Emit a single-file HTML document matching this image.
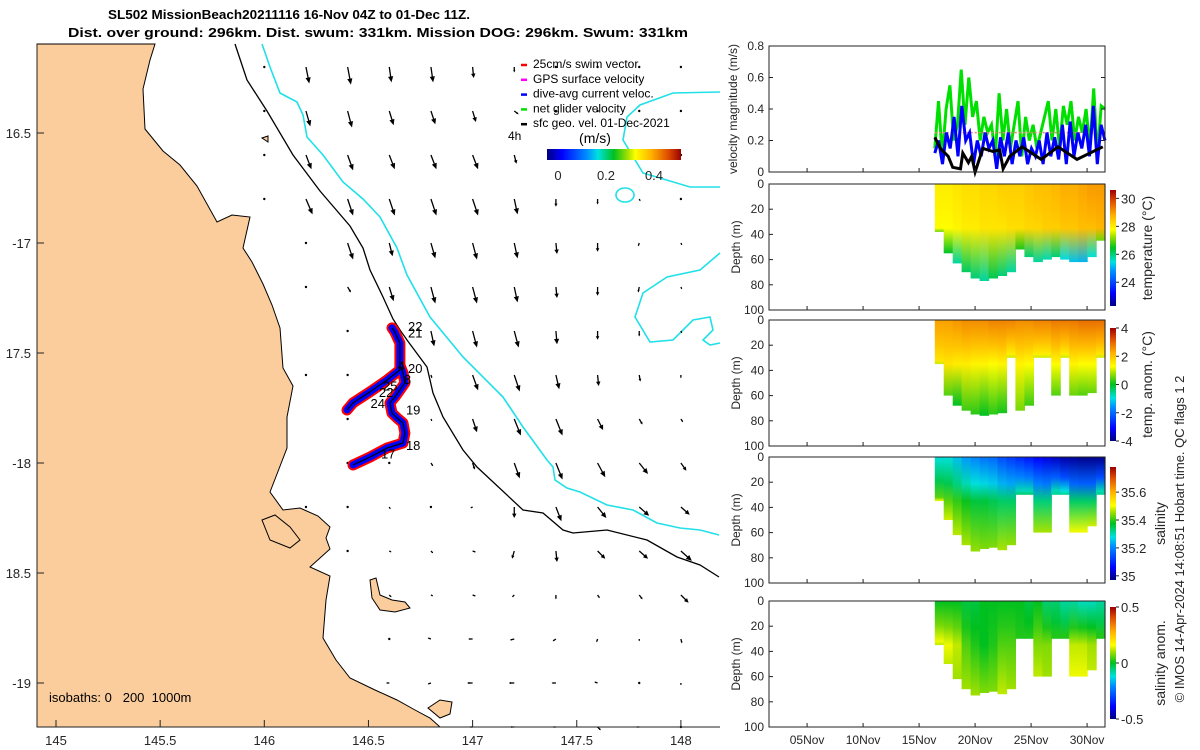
<!DOCTYPE html>
<html><head><meta charset="utf-8"><style>
html,body{margin:0;padding:0;background:#fff;}
svg{display:block;font-family:"Liberation Sans",sans-serif;}
</style></head><body>
<svg id="fig" width="1200" height="750" viewBox="0 0 1200 750" xmlns="http://www.w3.org/2000/svg">
<defs id="defs"></defs>
<g font-weight="bold" font-size="13" fill="#000">
<text x="108" y="19" textLength="362" lengthAdjust="spacingAndGlyphs">SL502 MissionBeach20211116 16-Nov 04Z to 01-Dec 11Z.</text>
<text x="68" y="37" textLength="620" lengthAdjust="spacingAndGlyphs">Dist. over ground: 296km. Dist. swum: 331km. Mission DOG: 296km. Swum: 331km</text>
</g>
<g id="map"></g>
<g id="right"></g>
</svg>
<script>
// ---------- MAP DATA ----------
const arrowLons=[145.0,145.2,145.4,145.6,145.8,146.0,146.2,146.4,146.6,146.8,147.0,147.2,147.4,147.6,147.8,148.0];
const arrowLats=[-16.2,-16.4,-16.6,-16.8,-17.0,-17.2,-17.4,-17.6,-17.8,-18.0,-18.2,-18.4,-18.6,-18.8,-19.0,-19.2];
const N=null;
const arrowU=[
[N,N,N,N,N,0,0.06,0.06,0.04,0.04,0.02,0,0,0,0,0],
[N,N,N,N,N,0,0.08,0.08,0.08,0.08,0.06,0.08,0,0,0,0],
[N,N,N,N,N,0,0.1,0.1,0.1,0.1,0.1,0.04,0,0,0,0],
[N,N,N,N,N,0,0.12,0.1,0.1,0.1,0.1,0.06,0,0,0.02,0.02],
[N,N,N,N,N,N,0,0.1,0.06,0.08,0.08,0.06,0.02,0,-0.02,0.02],
[N,N,N,N,N,N,0,0.06,0.08,0.08,0.08,0.06,0.02,0,-0.02,0.02],
[N,N,N,N,N,N,N,0,N,0.06,0.08,0.08,0.02,0,0,0.02],
[N,N,N,N,N,N,0,0,N,0.02,0.1,0.1,0.06,0.02,0.02,0],
[N,N,N,N,N,N,N,0.02,N,0.02,0.08,0.12,0.12,0.1,0.06,0.04],
[N,N,N,N,N,N,N,0.02,0,0.04,0.04,0.1,0.12,0.14,0.16,0.1],
[N,N,N,N,N,N,0,0,0.02,0.02,-0.04,0,0.1,0.16,0.18,0.16],
[N,N,N,N,N,N,N,0,0.04,0.04,0.06,-0.04,0.02,0.14,0.16,0.2],
[N,N,N,N,N,N,N,N,0.04,0.04,0.06,-0.04,0,0.04,0.06,0.14],
[N,N,N,N,N,N,N,N,-0.02,-0.06,-0.08,-0.08,-0.06,-0.02,0,0.02],
[N,N,N,N,N,N,N,N,-0.06,-0.06,-0.1,-0.1,-0.08,-0.06,-0.02,0],
[N,N,N,N,N,N,N,N,N,N,-0.06,-0.08,-0.06,0.06,-0.06,-0.02]];
const arrowV=[
[N,N,N,N,N,-0.02,-0.3,-0.32,-0.28,-0.28,-0.2,-0.1,-0.02,-0.02,-0.02,-0.02],
[N,N,N,N,N,-0.02,-0.28,-0.3,-0.26,-0.24,-0.2,-0.06,-0.02,-0.02,-0.02,-0.02],
[N,N,N,N,N,-0.02,-0.26,-0.28,-0.26,-0.26,-0.26,-0.16,-0.06,-0.04,-0.02,-0.02],
[N,N,N,N,N,-0.02,-0.28,-0.3,-0.3,-0.3,-0.3,-0.28,-0.14,-0.1,-0.04,-0.02],
[N,N,N,N,N,N,-0.02,-0.3,-0.24,-0.28,-0.3,-0.28,-0.2,-0.16,-0.06,-0.04],
[N,N,N,N,N,N,-0.02,-0.1,-0.26,-0.3,-0.3,-0.28,-0.2,-0.16,-0.1,-0.04],
[N,N,N,N,N,N,N,-0.02,N,-0.28,-0.3,-0.3,-0.24,-0.16,-0.1,-0.04],
[N,N,N,N,N,N,-0.02,-0.02,N,-0.06,-0.28,-0.3,-0.26,-0.2,-0.12,-0.06],
[N,N,N,N,N,N,N,0,N,-0.04,-0.24,-0.3,-0.3,-0.2,-0.1,-0.06],
[N,N,N,N,N,N,N,-0.02,-0.02,-0.06,-0.12,-0.28,-0.3,-0.26,-0.2,-0.14],
[N,N,N,N,N,N,-0.02,-0.02,-0.04,0,-0.02,-0.2,-0.26,-0.2,-0.16,-0.14],
[N,N,N,N,N,N,N,-0.02,-0.02,-0.04,-0.02,-0.14,-0.2,-0.14,-0.14,-0.18],
[N,N,N,N,N,N,N,N,-0.04,-0.02,-0.02,-0.04,-0.08,-0.06,-0.08,-0.14],
[N,N,N,N,N,N,N,N,0.02,0.02,0,-0.02,-0.04,-0.06,-0.04,-0.08],
[N,N,N,N,N,N,N,N,0,-0.02,0,0,0,0.02,0,-0.04],
[N,N,N,N,N,N,N,N,N,N,0,0,0,-0.06,0,0.02]];
const trackLons=[146.426,146.507,146.589,146.666,146.675,146.666,146.637,146.613,146.603,146.627,146.651,146.675,146.666,146.651,146.651,146.627,146.613,146.627,146.651,146.651,146.589,146.507,146.426,146.397];
const trackLats=[-18.009,-17.973,-17.932,-17.909,-17.864,-17.818,-17.795,-17.773,-17.727,-17.700,-17.668,-17.636,-17.591,-17.555,-17.455,-17.405,-17.386,-17.405,-17.455,-17.577,-17.623,-17.677,-17.727,-17.759];
const dayLabels=["22","21","20","4","8","25","22","24","19","18","17"];
const dayLabelLons=[146.69,146.69,146.69,146.64,146.67,146.57,146.55,146.51,146.68,146.68,146.56];
const dayLabelLats=[-17.40,-17.43,-17.59,-17.58,-17.64,-17.67,-17.70,-17.75,-17.78,-17.94,-17.98];

// ---------- TIME SERIES DATA ----------
const greenVel=[0.15,0.45,0.1,0.4,0.55,0.2,0.3,0.65,0.3,0.6,0.35,0.45,0.2,0.35,0.25,0.3,0.1,0.5,0.2,0.4,0.15,0.3,0.45,0.1,0.35,0.2,0.3,0.15,0.25,0.35,0.45,0.2,0.4,0.15,0.42,0.3,0.45,0.2,0.35,0.25,0.4,0.15,0.53,0.1,0.42,0.4];
const blueVel=[0.12,0.2,0.05,0.25,0.15,0.35,0.1,0.42,0.2,0.25,0.05,0.2,0.1,0.25,0.15,0.2,0.02,0.22,0.1,0.25,0.05,0.2,0.1,0.22,0.05,0.15,0.1,0.2,0.05,0.25,0.1,0.22,0.08,0.3,0.05,0.32,0.1,0.25,0.15,0.3,0.1,0.42,0.05,0.3,0.2];
const blackDays=[16.4,16.9,17.6,18.0,18.7,18.9,19.4,19.7,20.0,20.7,21.6,22.2,22.5,23.1,24.2,25.9,27.4,29.1,31.4];
const blackVel=[0.22,0.15,0.1,0.03,0.02,0.12,0.06,0.1,0.0,0.15,0.13,0.14,0.02,0.1,0.16,0.08,0.16,0.08,0.16];
const dateTicks=[5,10,15,20,25,30];
const dateTickLabels=["05Nov","10Nov","15Nov","20Nov","25Nov","30Nov"];
const profStart=16.4, profStep=0.8;
const tempBottom=[38,55,63,70,75,77,75,73,70,52,58,62,60,58,60,62,62,58,45];
const tempSurf=[28.0,28.0,28.1,28.2,28.2,28.3,28.3,28.4,28.4,28.4,28.5,28.6,28.6,28.7,28.8,28.8,28.9,29.0,29.0];
const tempMid=[27.8,27.8,27.9,28.0,28.0,28.1,28.1,28.1,28.2,28.2,28.3,28.3,28.4,28.4,28.5,28.5,28.6,28.6,28.7];
const tempBot=[27,26.4,25.8,26.1,26.0,25.8,26.2,26.0,25.8,26.6,26.0,25.8,25.7,26.0,25.4,25.2,25.1,25.5,27];
const anomBottom=[35,60,68,72,75,76,75,74,30,72,68,30,30,60,30,60,60,58,30];
const anomSurf=[2.4,2.4,2.5,2.6,2.6,2.6,2.7,2.7,2.7,2.6,2.6,2.7,2.7,2.8,2.8,2.8,2.9,2.9,2.9];
const anomMid=[1.6,1.6,1.5,1.5,1.4,1.4,1.3,1.4,1.5,1.4,1.3,1.5,1.5,1.3,1.5,1.4,1.3,1.3,1.6];
const anomBot=[1,0.4,0,0.3,0.2,0,0.2,0.1,1,0.6,0.3,1,1,0.4,1,0.5,0.4,0.5,1];
const salBottom=[35,50,62,70,75,73,72,74,70,30,30,60,60,30,30,60,60,55,30];
const salSurf=[35.28,35.28,35.25,35.22,35.2,35.18,35.17,35.14,35.12,35.1,35.08,35.06,35.04,35.02,35.0,34.99,34.98,34.98,34.98];
const salMid=[35.42,35.42,35.4,35.38,35.36,35.36,35.35,35.34,35.34,35.3,35.3,35.33,35.33,35.3,35.28,35.34,35.34,35.34,35.3];
const salBot=[35.5,35.48,35.47,35.46,35.45,35.44,35.44,35.46,35.45,35.34,35.34,35.46,35.46,35.32,35.32,35.5,35.5,35.48,35.32];
const sanSurf=[0,0,0,-0.02,-0.02,0,0,0,0,0,-0.02,0,-0.05,-0.05,-0.08,-0.08,-0.1,-0.1,-0.08];
const sanMid=[0.15,0.15,0.12,0.05,0.02,0,0.02,0.05,0.05,0.02,0.02,0.08,0.08,0.02,0.02,0.12,0.12,0.1,0.02];
const sanBot=[0.12,0.12,0.1,0.1,0.1,0.08,0.08,0.12,0.1,0.02,0.02,0.12,0.1,0.02,0.02,0.15,0.15,0.12,0.02];

// ---------- helpers ----------
const NS="http://www.w3.org/2000/svg";
function mk(tag,attrs,parent){const e=document.createElementNS(NS,tag);for(const k in attrs)e.setAttribute(k,attrs[k]);parent.appendChild(e);return e;}
const xLon=lon=>56+(lon-145)*208.3;
const yLat=lat=>133+(-16.5-lat)*220;
const xDay=d=>769+(d-1.6)*11.2;
const cmapStops=[[0,[0,0,127]],[0.11,[0,0,255]],[0.3,[0,144,255]],[0.38,[0,224,224]],[0.5,[0,192,32]],[0.6,[160,224,0]],[0.66,[255,255,0]],[0.78,[255,176,0]],[0.9,[224,80,0]],[1,[154,0,0]]];
function cmap(t){t=Math.max(0,Math.min(1,t));for(let i=1;i<cmapStops.length;i++){if(t<=cmapStops[i][0]){const a=cmapStops[i-1],b=cmapStops[i];const f=(t-a[0])/(b[0]-a[0]);const c=a[1].map((v,j)=>Math.round(v+(b[1][j]-v)*f));return `rgb(${c[0]},${c[1]},${c[2]})`;}}return 'rgb(154,0,0)';}
const defs=document.getElementById('defs');
function vGrad(id,x1,y1,x2,y2,stops){const g=mk('linearGradient',{id:id,gradientUnits:'userSpaceOnUse',x1:x1,y1:y1,x2:x2,y2:y2},defs);stops.forEach(s=>mk('stop',{offset:s[0],'stop-color':s[1]},g));return g;}
const cbStops=cmapStops.map(s=>[s[0],`rgb(${s[1].join(',')})`]);

// ---------- MAP ----------
const map=document.getElementById('map');
const land=mk('path',{d:"M37,44 L155,44 L150,60 L143,89 L145,129 L163,151 L180,165 L197,186 L217,222 L232,215 L250,217 L243,248 L252,262 L263,284 L272,305 L280,328 L283,368 L293,386 L287,417 L287,448 L277,474 L270,492 L283,510 L300,508 L318,516 L330,527 L326,538 L330,549 L310,567 L330,576 L326,600 L323,638 L336,660 L350,678 L375,690 L397,700 L415,710 L430,718 L440,727 L37,727 Z",fill:"#fbcd9d",stroke:"#000","stroke-width":1},map);


[["M262,520 L275,515 L290,527 L300,540 L290,548 L270,540 Z","island-hinchinbrook"],["M370,580 L376,578 L380,595 L392,600 L405,602 L410,608 L395,612 L380,610 L372,598 Z","island-family"],["M428,708 L440,700 L452,702 L450,714 L440,718 Z","island-south"],["M262,138 L268,136 L268,142 Z","islet-a"]].forEach(p=>{
 const e=mk('path',{d:p[0],fill:"#fbcd9d",stroke:"#000","stroke-width":1},map);
 
 
});
const iso200=mk('polyline',{points:"235,44 247,80 267,111 293,155 320,191 350,226 363,248 370,270 383,297 393,319 400,330 407,340 427,367 433,393 443,417 463,450 477,467 523,510 543,513 563,530 573,533 607,530 647,540 677,557 700,565 719,577",fill:"none",stroke:"#000","stroke-width":1.3},map);


const iso1000=mk('polyline',{points:"262,44 270,67 280,93 297,102 303,115 307,137 323,155 343,182 363,199 380,217 397,248 407,275 430,317 463,357 503,397 523,427 547,460 553,467 555,480 567,488 580,492 607,505 633,510 657,523 680,528 700,530 719,535",fill:"none",stroke:"#20e0e8","stroke-width":1.6},map);


[["720,92 673,93 640,105 627,117 623,140 643,173 690,187 720,187","isobath-1000m-ne"],["720,253 700,270 667,277 643,293 635,317 650,342 673,340 693,320 710,317 713,330 703,340 710,345 720,343","isobath-1000m-e"]].forEach(p=>{
 const e=mk('polyline',{points:p[0],fill:"none",stroke:"#20e0e8","stroke-width":1.6},map);
 
 
});
const loop=mk('ellipse',{cx:625,cy:195,rx:9,ry:7,fill:"none",stroke:"#20e0e8","stroke-width":1.6},map);



// arrows
const arrowScale=55;
arrowLats.forEach((lat,r)=>arrowLons.forEach((lon,c)=>{
 const u=arrowU[r][c],v=arrowV[r][c];
 if(u===null||v===null)return;
 const x0=xLon(lon),y0=yLat(lat);
 const dx=u*arrowScale,dy=-v*arrowScale;const L=Math.hypot(dx,dy);
 const g=mk('g',{},map);
 
 
 if(L<2){mk('circle',{cx:x0,cy:y0,r:1.2,fill:'#000'},g);return;}
 const ux=dx/L,uy=dy/L;const h=Math.min(6,L*0.4),w=Math.min(2.6,L*0.2);
 const x1=x0+dx,y1=y0+dy;
 mk('line',{x1:x0,y1:y0,x2:x1-ux*h*0.6,y2:y1-uy*h*0.6,stroke:'#000','stroke-width':1.3},g);
 mk('polygon',{points:`${x1},${y1} ${x1-ux*h-uy*w},${y1-uy*h+ux*w} ${x1-ux*h+uy*w},${y1-uy*h-ux*w}`,fill:'#000'},g);
}));

// track
const tp=trackLons.map((l,i)=>xLon(l).toFixed(1)+','+yLat(trackLats[i]).toFixed(1)).join(' ');
const tr1=mk('polyline',{points:tp,fill:'none',stroke:'#ff0000','stroke-width':11,'stroke-linejoin':'round','stroke-linecap':'round'},map);


const tr2=mk('polyline',{points:tp,fill:'none',stroke:'#0000ff','stroke-width':7,'stroke-linejoin':'round','stroke-linecap':'round'},map);


const tr3=mk('polyline',{points:tp,fill:'none',stroke:'#000','stroke-width':1.2},map);


dayLabels.forEach((t,i)=>{
 const e=mk('text',{x:xLon(dayLabelLons[i]),y:yLat(dayLabelLats[i]),'font-size':13,fill:'#000'},map);e.textContent=t;
 
 
});

// map axes
const mAx=mk('path',{d:"M37,44 L37,727 L720,727",fill:'none',stroke:'#222','stroke-width':1},map);


const lonTicks=[145,145.5,146,146.5,147,147.5,148];
const lonTickLabels=["145","145.5","146","146.5","147","147.5","148"];
lonTicks.forEach((l,i)=>{const x=xLon(l);mk('line',{x1:x,y1:727,x2:x,y2:720,stroke:'#222'},map);
 const e=mk('text',{x:x,y:745,'font-size':13,'text-anchor':'middle',fill:'#262626'},map);e.textContent=lonTickLabels[i];
 
 });
const latTicks=[-16.5,-17,-17.5,-18,-18.5,-19];
const latTickLabels=["16.5","-17","17.5","-18","18.5","-19"];
latTicks.forEach((l,i)=>{const y=yLat(l);mk('line',{x1:37,y1:y,x2:44,y2:y,stroke:'#222'},map);
 const e=mk('text',{x:31,y:y+5,'font-size':13,'text-anchor':'end',fill:'#262626'},map);e.textContent=latTickLabels[i];
 
 });
const isoT=mk('text',{x:49,y:702,'font-size':13,fill:'#000',style:'white-space:pre'},map);isoT.textContent='isobaths: 0   200  1000m';



// legend
const legNames=["25cm/s swim vector","GPS surface velocity","dive-avg current veloc.","net glider velocity","sfc geo. vel. 01-Dec-2021"];
const legColors=["#ff0000","#ff00ff","#0000ff","#00e000","#000"];
legNames.forEach((t,i)=>{const y=68+i*14.8;
 const g=mk('g',{},map);
 
 
 mk('line',{x1:521,y1:y-3,x2:527,y2:y-3,stroke:legColors[i],'stroke-width':2.5},g);
 const e=mk('text',{x:533,y:y,'font-size':12,fill:'#000'},g);e.textContent=t;});
const t4=mk('text',{x:508,y:140,'font-size':12,fill:'#000'},map);t4.textContent='4h';


const tms=mk('text',{x:595,y:143,'font-size':14,'text-anchor':'middle',fill:'#000'},map);tms.textContent='(m/s)';


vGrad('gSpeed',547,0,681,0,cbStops);
const sc=mk('rect',{x:547,y:149,width:134,height:11,fill:'url(#gSpeed)'},map);


const speedTicks=[0,0.2,0.4];
const speedTickLabels=["0","0.2","0.4"];
speedTicks.forEach((s,i)=>{const x=558+s*240;
 const e=mk('text',{x:x,y:180,'font-size':13,'text-anchor':'middle',fill:'#262626'},map);e.textContent=speedTickLabels[i];
 
 });

// ---------- RIGHT PANELS ----------
const R=document.getElementById('right');
function rotText(x,y,txt,size,name,parent){const e=mk('text',{x:0,y:0,'font-size':size,'text-anchor':'middle',fill:'#262626',transform:`translate(${x},${y}) rotate(-90)`},parent);e.textContent=txt;
 
 return e;}
function xAxisTicks(yb,labels){dateTicks.forEach((d,i)=>{const x=xDay(d);mk('line',{x1:x,y1:yb,x2:x,y2:yb-4,stroke:'#222'},R);
 if(labels){const e=mk('text',{x:x,y:744,'font-size':12,'text-anchor':'middle',fill:'#262626'},R);e.textContent=dateTickLabels[i];
 
 }});}

// velocity panel
const vTop=46,vBot=172;const yV=v=>vBot-(v/0.8)*(vBot-vTop);
const gStep=(31.6-16.4)/(greenVel.length-1), bStep=(31.6-16.4)/(blueVel.length-1);
const gl=mk('polyline',{points:greenVel.map((v,i)=>xDay(16.4+i*gStep).toFixed(1)+','+yV(v).toFixed(1)).join(' '),fill:'none',stroke:'#00e000','stroke-width':3},R);


const rl=mk('line',{x1:xDay(16.4),y1:yV(0.25),x2:xDay(31.6),y2:yV(0.25),stroke:'#f08080','stroke-width':1.5,'stroke-dasharray':'2,2'},R);


const bl=mk('polyline',{points:blueVel.map((v,i)=>xDay(16.4+i*bStep).toFixed(1)+','+yV(v).toFixed(1)).join(' '),fill:'none',stroke:'#0000ff','stroke-width':3},R);


const kl=mk('polyline',{points:blackDays.map((d,i)=>xDay(d).toFixed(1)+','+yV(blackVel[i]).toFixed(1)).join(' '),fill:'none',stroke:'#000','stroke-width':3},R);


const vf=mk('rect',{x:769,y:vTop,width:336,height:vBot-vTop,fill:'none',stroke:'#222'},R);


const velTicks=[0,0.2,0.4,0.6,0.8];
const velTickLabels=["0","0.2","0.4","0.6","0.8"];
velTicks.forEach((v,i)=>{const y=yV(v);mk('line',{x1:769,y1:y,x2:773,y2:y,stroke:'#222'},R);mk('line',{x1:1105,y1:y,x2:1101,y2:y,stroke:'#222'},R);
 const e=mk('text',{x:764,y:y+4,'font-size':12,'text-anchor':'end',fill:'#262626'},R);e.textContent=velTickLabels[i];
 
 });
xAxisTicks(vBot,false);
rotText(737,109,'velocity magnitude (m/s)',12,'velocity-axis-title',R);

// depth panels
const depthTicks=[0,20,40,60,80,100];
const depthTickLabels=["0","20","40","60","80","100"];
const panels=[
 {top:184,bottom:tempBottom,s:tempSurf,m:tempMid,b:tempBot,min:22.3,max:30.6,cbT:190,cbB:306,ticks:[30,28,26,24],tl:["30","28","26","24"],label:'temperature (°C)',lx:1152,name:'temperature'},
 {top:320,bottom:anomBottom,s:anomSurf,m:anomMid,b:anomBot,min:-4,max:4,cbT:328,cbB:441,ticks:[4,2,0,-2,-4],tl:["4","2","0","-2","-4"],label:'temp. anom. (°C)',lx:1152,name:'temp-anomaly'},
 {top:457,bottom:salBottom,s:salSurf,m:salMid,b:salBot,min:34.97,max:35.78,cbT:467,cbB:580,ticks:[35.6,35.4,35.2,35],tl:["35.6","35.4","35.2","35"],label:'salinity',lx:1165,name:'salinity'},
 {top:601,bottom:salBottom,s:sanSurf,m:sanMid,b:sanBot,min:-0.5,max:0.5,cbT:607,cbB:719,ticks:[0.5,0,-0.5],tl:["0.5","0","-0.5"],label:'salinity anom.',lx:1165,name:'salinity-anomaly'}];
panels.forEach((p,pi)=>{
 const yD=d=>p.top+d*1.26;const norm=v=>(v-p.min)/(p.max-p.min);
 const g=mk('g',{},R);
 
 
 p.bottom.forEach((bd,i)=>{
  const x0=xDay(profStart+i*profStep);const x1=Math.min(1105,xDay(profStart+(i+1)*profStep));
  const md=Math.min(35,bd-3);const id='gp'+pi+'_'+i;
  vGrad(id,0,yD(0),0,yD(bd),[[0,cmap(norm(p.s[i]))],[Math.max(0.05,md/bd*0.6).toFixed(3),cmap(norm((p.s[i]+p.m[i])/2))],[(md/bd).toFixed(3),cmap(norm(p.m[i]))],[1,cmap(norm(p.b[i]))]]);
  const r=mk('rect',{x:x0.toFixed(1),y:yD(0),width:(x1-x0+0.6).toFixed(1),height:(yD(bd)-yD(0)).toFixed(1),fill:`url(#${id})`},g);
  
  
 });
 const f=mk('rect',{x:769,y:p.top,width:336,height:126,fill:'none',stroke:'#222'},R);
 
 
 depthTicks.forEach((d,i)=>{const y=yD(d);mk('line',{x1:769,y1:y,x2:773,y2:y,stroke:'#222'},R);
  const e=mk('text',{x:764,y:y+4,'font-size':12,'text-anchor':'end',fill:'#262626'},R);e.textContent=depthTickLabels[i];
  
  });
 xAxisTicks(p.top+126,pi===3);
 rotText(740,p.top+63,'Depth (m)',12,'depth-axis-title',R);
 vGrad('cb'+pi,0,p.cbB,0,p.cbT,cbStops);
 const cb=mk('rect',{x:1110,y:p.cbT,width:6,height:p.cbB-p.cbT,fill:`url(#cb${pi})`},R);
 
 
 p.ticks.forEach((t,i)=>{const y=p.cbB-norm(t)*(p.cbB-p.cbT);mk('line',{x1:1116,y1:y,x2:1119,y2:y,stroke:'#222'},R);
  const e=mk('text',{x:1121,y:y+5,'font-size':13,fill:'#262626'},R);e.textContent=p.tl[i];
  
  });
 rotText(p.lx,(p.cbT+p.cbB)/2,p.label,14,p.name+'-colorbar-title',R);
});
rotText(1184,539,'© IMOS 14-Apr-2024 14:08:51 Hobart time. QC flags 1 2',13,'credit-note',R);
</script>
</body></html>
